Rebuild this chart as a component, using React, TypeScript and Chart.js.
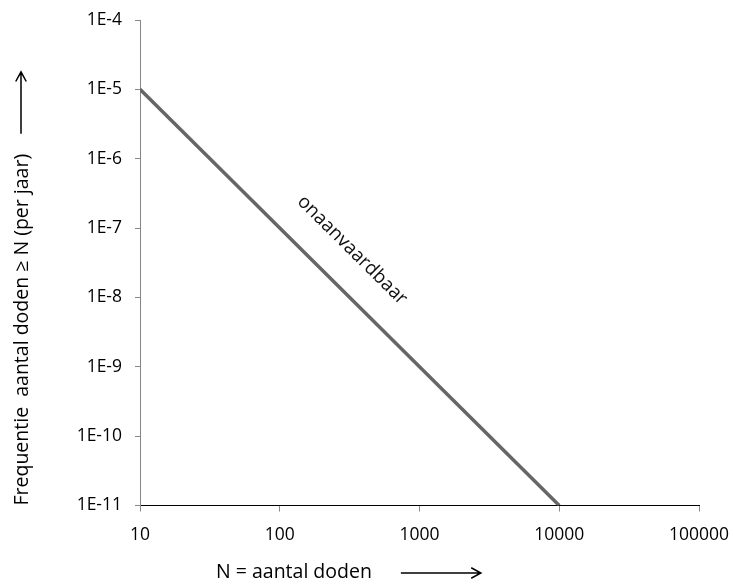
import React, { useEffect, useRef } from 'react';
import { Chart, registerables } from 'chart.js';

Chart.register(...registerables);

const xTicks = [10, 100, 1000, 10000, 100000];
const yTicks = [1e-11, 1e-10, 1e-9, 1e-8, 1e-7, 1e-6, 1e-5, 1e-4];
const yTickLabels = ['1E-11', '1E-10', '1E-9', '1E-8', '1E-7', '1E-6', '1E-5', '1E-4'];
const lineX = [10, 10000];
const lineY = [1e-5, 1e-11];
const zoneLabel = 'onaanvaardbaar';
const zoneLabelX = 330;
const zoneLabelY = 4.8e-8;
const xTitle = 'N = aantal doden';
const yTitle = 'Frequentie  aantal doden \u2265 N (per jaar)';

const FONT = "'Open Sans', sans-serif";

function arrow(ctx: CanvasRenderingContext2D, x0: number, y0: number, x1: number, y1: number) {
  const ang = Math.atan2(y1 - y0, x1 - x0);
  const h = 11;
  ctx.beginPath();
  ctx.moveTo(x0, y0);
  ctx.lineTo(x1, y1);
  ctx.moveTo(x1 - h * Math.cos(ang - 0.5), y1 - h * Math.sin(ang - 0.5));
  ctx.lineTo(x1, y1);
  ctx.lineTo(x1 - h * Math.cos(ang + 0.5), y1 - h * Math.sin(ang + 0.5));
  ctx.stroke();
}

const decorPlugin = {
  id: 'decor',
  afterDraw(chart: any) {
    const ctx: CanvasRenderingContext2D = chart.ctx;
    const { chartArea, scales } = chart;
    const xs = scales.x;
    const ys = scales.y;
    ctx.save();
    ctx.fillStyle = '#000';
    ctx.strokeStyle = '#000';
    ctx.lineWidth = 1.5;
    // Y title
    ctx.font = `19.5px ${FONT}`;
    ctx.save();
    ctx.translate(22, chartArea.bottom);
    ctx.rotate(-Math.PI / 2);
    ctx.textAlign = 'left';
    ctx.textBaseline = 'middle';
    ctx.fillText(yTitle, 0, 0);
    const w = ctx.measureText(yTitle).width;
    arrow(ctx, w + 20, -1, w + 82, -1);
    ctx.restore();
    // X title
    ctx.textAlign = 'left';
    ctx.textBaseline = 'middle';
    const tx = chartArea.left + 76;
    const ty = 572;
    ctx.fillText(xTitle, tx, ty);
    const w2 = ctx.measureText(xTitle).width;
    arrow(ctx, tx + w2 + 29, ty + 1, tx + w2 + 109, ty + 1);
    // zone label
    const p0x = xs.getPixelForValue(lineX[0]);
    const p0y = ys.getPixelForValue(lineY[0]);
    const p1x = xs.getPixelForValue(lineX[1]);
    const p1y = ys.getPixelForValue(lineY[1]);
    const ang = Math.atan2(p1y - p0y, p1x - p0x);
    ctx.translate(xs.getPixelForValue(zoneLabelX), ys.getPixelForValue(zoneLabelY));
    ctx.rotate(ang);
    ctx.textAlign = 'center';
    ctx.fillStyle = '#111';
    ctx.font = `19px ${FONT}`;
    ctx.fillText(zoneLabel, 0, 0);
    ctx.restore();
  },
};

export default function App() {
  const ref = useRef<HTMLCanvasElement>(null);
  useEffect(() => {
    const chart = new Chart(ref.current!, {
      type: 'line',
      data: {
        datasets: [
          {
            data: lineX.map((x, i) => ({ x, y: lineY[i] })),
            borderColor: '#666666',
            borderWidth: 3.5,
            pointRadius: 0,
            fill: false,
          },
        ],
      },
      options: {
        animation: false,
        responsive: false,
        layout: { padding: { left: 0, top: 20, right: 34, bottom: 0 } },
        plugins: { legend: { display: false }, tooltip: { enabled: false } },
        scales: {
          x: {
            type: 'logarithmic',
            min: 10,
            max: 100000,
            afterBuildTicks: (s: any) => {
              s.ticks = xTicks.map((v) => ({ value: v }));
            },
            afterFit: (s: any) => {
              s.height = 78.5;
              s.paddingLeft = 0;
              s.paddingRight = 0;
            },
            ticks: {
              callback: (v: any) => String(v),
              color: '#000',
              font: { family: FONT, size: 17.5 },
              padding: 13,
              maxRotation: 0,
              autoSkip: false,
            },
            grid: { drawOnChartArea: false, drawTicks: true, tickLength: 6, color: '#888' },
            border: { color: '#000', width: 1 },
          },
          y: {
            type: 'logarithmic',
            min: 1e-11,
            max: 1e-4,
            afterBuildTicks: (s: any) => {
              s.ticks = yTicks.map((v) => ({ value: v }));
            },
            afterFit: (s: any) => {
              s.width = 140;
              s.paddingTop = 0;
              s.paddingBottom = 0;
            },
            ticks: {
              callback: (v: any) => {
                const i = yTicks.findIndex((t) => Math.abs(Math.log10(t) - Math.log10(v)) < 1e-6);
                return i >= 0 ? yTickLabels[i] : '';
              },
              color: '#000',
              font: { family: FONT, size: 17.5 },
              padding: 13,
              autoSkip: false,
            },
            grid: { drawOnChartArea: false, drawTicks: true, tickLength: 5, color: '#888' },
            border: { color: '#868686', width: 1 },
          },
        },
      },
      plugins: [decorPlugin],
    } as any);
    return () => chart.destroy();
  }, []);
  return (
    <div style={{ position: 'absolute', left: 0, top: 0, width: 733, height: 584, background: '#fff' }}>
      <canvas ref={ref} width={733} height={584} />
    </div>
  );
}
